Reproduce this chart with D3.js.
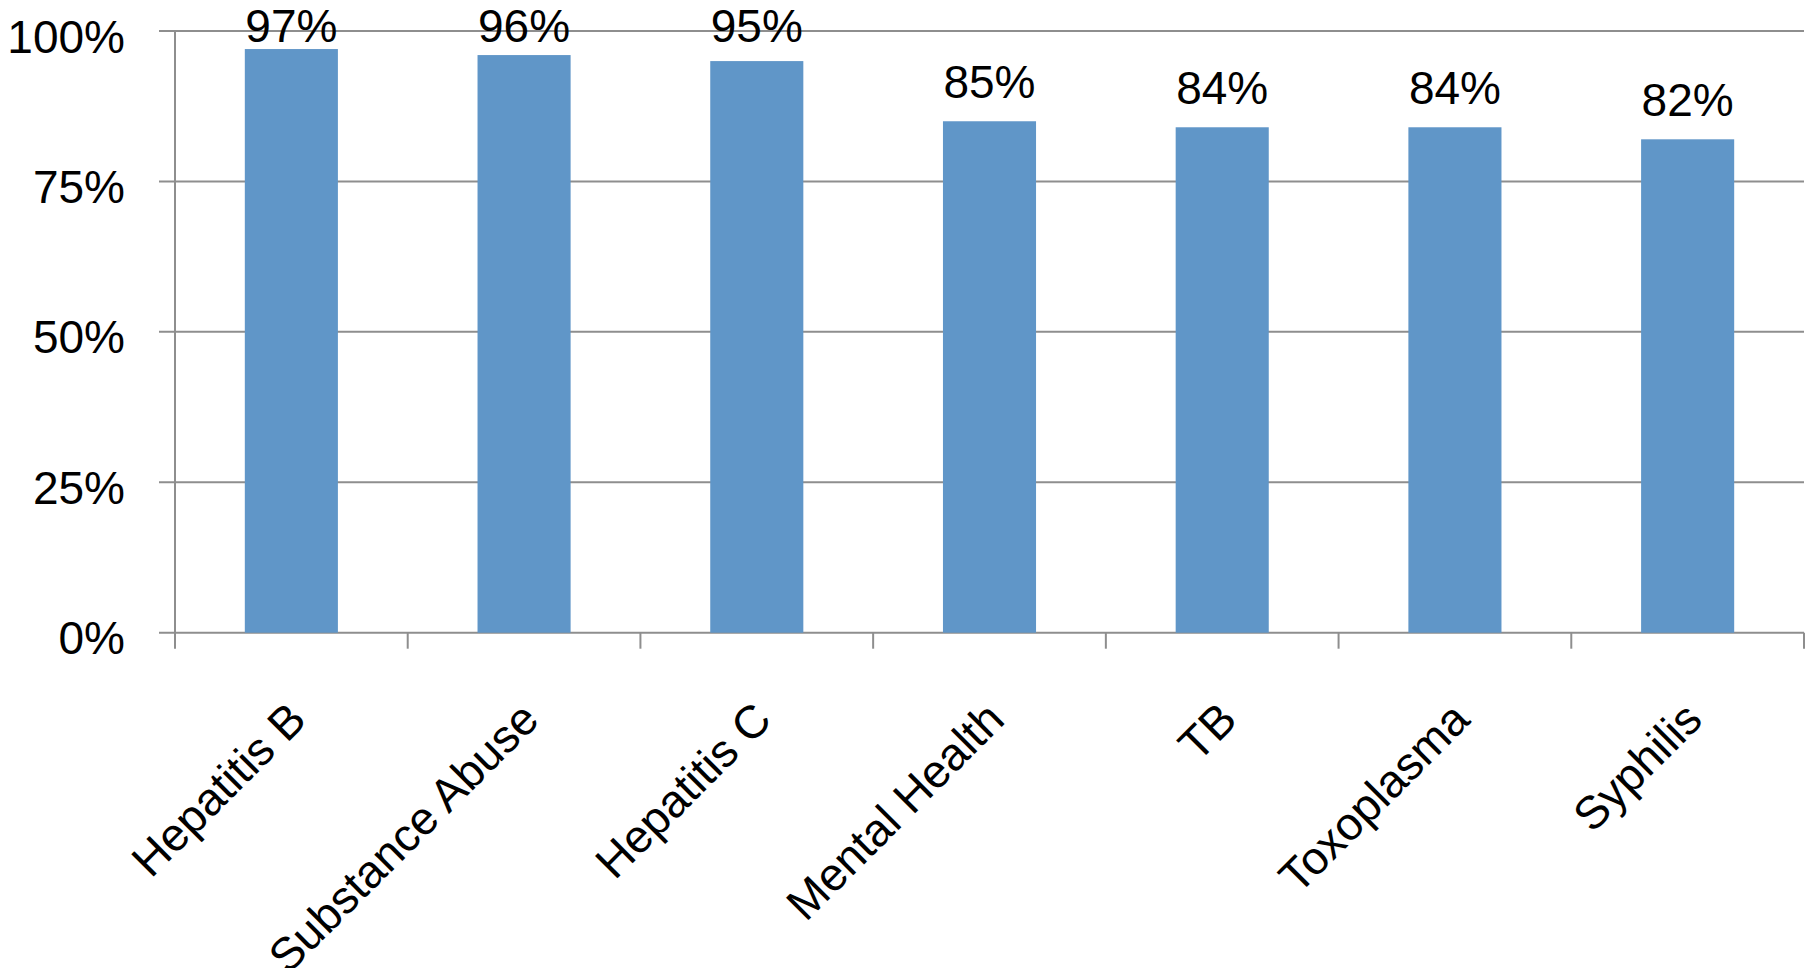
<!DOCTYPE html>
<html>
<head>
<meta charset="utf-8">
<script src="https://cdn.jsdelivr.net/npm/d3@7"></script>
<style>
  html, body { margin: 0; padding: 0; background: #fff; }
  svg { display: block; }
  text { font-family: "Liberation Sans", Arial, sans-serif; fill: #000; }
</style>
</head>
<body>
<svg id="chart" width="1815" height="968"></svg>
<script>
const categories = ["Hepatitis B", "Substance Abuse", "Hepatitis C", "Mental Health", "TB", "Toxoplasma", "Syphilis"];
const values = [97, 96, 95, 85, 84, 84, 82];
const yTicks = [0, 25, 50, 75, 100];

const plotLeft = 175, plotRight = 1804, plotTop = 31, plotBottom = 632.7;

const svg = d3.select("#chart");

const x = d3.scaleBand().domain(categories).range([plotLeft, plotRight]).paddingInner(0).paddingOuter(0);
const y = d3.scaleLinear().domain([0, 100]).range([plotBottom, plotTop]);

const gridColor = "#8e8e8e";

// horizontal gridlines (extend left as tick marks)
svg.append("g").selectAll("line").data(yTicks).join("line")
  .attr("x1", plotLeft - 16).attr("x2", plotRight)
  .attr("y1", d => y(d)).attr("y2", d => y(d))
  .attr("stroke", gridColor).attr("stroke-width", 2);

// y axis line
svg.append("line")
  .attr("x1", plotLeft).attr("x2", plotLeft)
  .attr("y1", y(100)).attr("y2", plotBottom + 16)
  .attr("stroke", gridColor).attr("stroke-width", 2);

// category tick marks
const bounds = categories.map(c => x(c) + x.bandwidth());
svg.append("g").selectAll("line").data(bounds).join("line")
  .attr("x1", d => d).attr("x2", d => d)
  .attr("y1", plotBottom).attr("y2", plotBottom + 16)
  .attr("stroke", gridColor).attr("stroke-width", 2);

// y tick labels
svg.append("g").selectAll("text").data(yTicks).join("text")
  .attr("x", 125)
  .attr("y", d => y(d) + 21.5)
  .attr("text-anchor", "end")
  .attr("font-size", 46)
  .text(d => d + "%");

// bars
const barW = x.bandwidth() * 0.4;
svg.append("g").selectAll("rect").data(values).join("rect")
  .attr("x", (d, i) => x(categories[i]) + (x.bandwidth() - barW) / 2)
  .attr("y", d => y(d))
  .attr("width", barW)
  .attr("height", d => plotBottom - y(d))
  .attr("fill", "#6096c8");

// value labels
svg.append("g").selectAll("text").data(values).join("text")
  .attr("x", (d, i) => x(categories[i]) + x.bandwidth() / 2)
  .attr("y", d => Math.max(y(d) - 23, 42))
  .attr("text-anchor", "middle")
  .attr("font-size", 46)
  .text(d => d + "%");

// category labels rotated
svg.append("g").selectAll("text").data(categories).join("text")
  .attr("transform", c => `translate(${x(c) + x.bandwidth() / 2 + 17},722) rotate(-45)`)
  .attr("text-anchor", "end")
  .attr("font-size", 46)
  .text(c => c);
</script>
</body>
</html>
